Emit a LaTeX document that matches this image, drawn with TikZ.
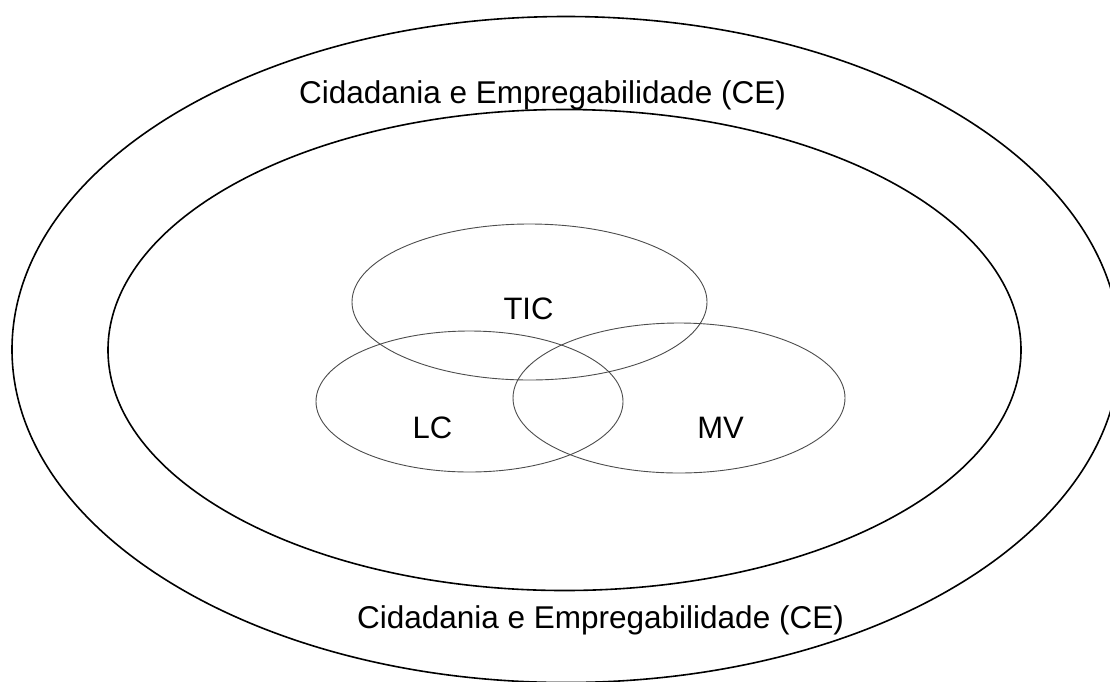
\documentclass[tikz,border=0pt]{standalone}
\usepackage{fontspec}
\setmainfont{Liberation Sans}
\usetikzlibrary{shapes.geometric}
\tikzset{
  bigring/.style={draw=black, line width=1.6pt, ellipse, inner sep=0pt, fill=none},
  setring/.style={draw=black!70, line width=0.9pt, ellipse, inner sep=0pt, fill=none},
  celabel/.style={anchor=base, inner sep=0pt, font=\fontsize{31.5}{36}\selectfont},
  setlabel/.style={anchor=base, inner sep=0pt, font=\fontsize{31}{36}\selectfont}
}
\begin{document}
\begin{tikzpicture}[x=1pt, y=-1pt]
\useasboundingbox (0,0) rectangle (1110,681);
% outer and inner rings
\node[bigring, minimum width=1108pt, minimum height=666pt] (outer) at (566,349.5) {};
\node[bigring, minimum width=913pt, minimum height=481pt] (inner) at (564.5,350) {};
% the three sets
\node[setring, minimum width=355pt, minimum height=156pt] (tic) at (529.5,302) {};
\node[setring, minimum width=307pt, minimum height=141pt] (lc) at (469.5,401.5) {};
\node[setring, minimum width=332pt, minimum height=150pt] (mv) at (679,398) {};
% labels
\node[celabel] (cetop) at (542.5,103) {Cidadania e Empregabilidade (CE)};
\node[celabel] (cebot) at (600.5,628) {Cidadania e Empregabilidade (CE)};
\node[setlabel] (tictext) at (528.5,319) {TIC};
\node[setlabel] (lctext) at (432.5,438) {LC};
\node[setlabel] (mvtext) at (720.5,438) {MV};
\end{tikzpicture}
\end{document}
